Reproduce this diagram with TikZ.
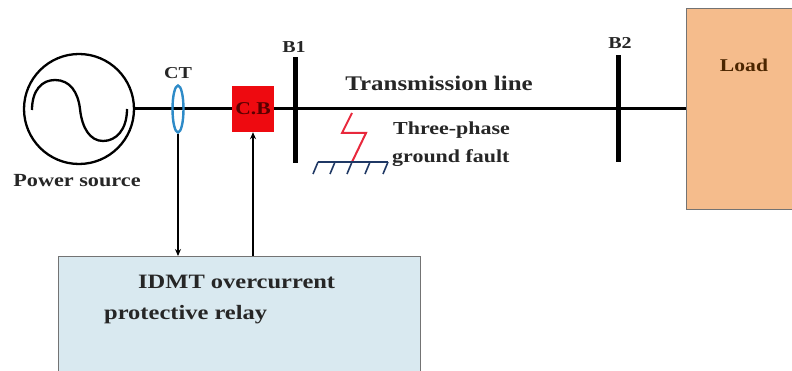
\documentclass[tikz,border=0pt]{standalone}
\usepackage{fontspec}
\setmainfont{Liberation Serif}[FakeStretch=1.2]
\usetikzlibrary{positioning, arrows.meta, shapes.geometric}

\definecolor{relayblue}{HTML}{D9E9F0}
\definecolor{loadorange}{HTML}{F5BC8C}
\definecolor{cbred}{HTML}{EE0A10}
\definecolor{ctblue}{HTML}{2E8BC8}
\definecolor{faultred}{HTML}{E8283C}
\definecolor{earthblue}{HTML}{1F3864}

\newcommand{\lblsize}[1]{\bfseries\fontsize{#1}{#1}\selectfont}

\begin{document}
\begin{tikzpicture}[
  x=1pt, y=-1pt,
  >={Stealth[length=7pt, width=6pt]},
  label/.style={font=\lblsize{16.7}, text=black!85, inner sep=0pt},
  box/.style={draw=black!55, line width=1pt, inner sep=0pt, anchor=north west},
  bus/.style={fill=black, inner sep=0pt, minimum width=5pt},
  wire/.style={line width=3pt},
  arrow/.style={->, line width=1.5pt},
  earth/.style={line width=1.6pt, earthblue}
]
\useasboundingbox (0,0) rectangle (792,371);

% Source
\node[circle, draw, line width=2.3pt, minimum size=110pt, inner sep=0pt] (source) at (79,109) {};
\draw[line width=2.3pt] (32,110) .. controls (32,90) and (42,80) .. (55,80)
  .. controls (70,80) and (78,92) .. (80,109)
  .. controls (82,128) and (90,141) .. (103,141)
  .. controls (116,141) and (127,130) .. (127,109);

% Boxes, the right and lower ones run off the page
\node[box, fill=loadorange, minimum width=120pt, minimum height=201pt] (load) at (686,8) {};
\node[box, fill=relayblue, minimum width=362pt, minimum height=130pt] (relay) at (58,256) {};
\node[fill=cbred, inner sep=0pt, minimum width=42pt, minimum height=46pt] (cb) at (253,109) {};

% Bus bars
\node[bus, minimum height=106pt] (b1) at (295,110) {};
\node[bus, minimum height=107pt] (b2) at (618,108.5) {};

% Main line
\draw[wire] (source.east) -- (cb.west);
\draw[wire] (cb.east) -- (load.west);

% CT
\node[ellipse, draw=ctblue, line width=2.4pt, minimum width=11pt, minimum height=47pt, inner sep=0pt] (ct) at (178,109) {};

% Relay connections
\draw[arrow] (ct.south) -- (ct.south |- relay.north);
\draw[arrow] (cb.south |- relay.north) -- (cb.south);

% Fault
\coordinate (fault) at (352,113);
\coordinate (earthl) at (318,162);
\coordinate (earthr) at (388,162);
\draw[line width=2pt, faultred] (fault) -- (342,133) -- (366,133) -- (352,162);
\draw[earth] (earthl) -- (earthr);
\foreach \x in {318,335,352,370,388} {
  \draw[earth] (\x,162) -- ++(-5,12);
}

% Labels
\node[label, font=\lblsize{18.5}] (lblsource) at (77,181) {Power source};
\node[label] (lblct) at (178,73) {CT};
\node[label, font=\lblsize{18}, text=red!35!black] (lblcb) at (cb) {C.B};
\node[label] (lblb1) at (294,47) {B1};
\node[label] (lblb2) at (620,43) {B2};
\node[label, font=\lblsize{20.8}] (lblline) at (439,83) {Transmission line};
\node[label, font=\lblsize{18.3}, anchor=west] (lblthree) at (393,130) {Three-phase};
\node[label, font=\lblsize{18.3}, anchor=west] (lblground) at (392,158) {ground fault};
\node[label, font=\lblsize{18}, text=black!70!orange] (lblload) at (744,65) {Load};
\node[label, font=\lblsize{20.4}, anchor=west] (lblidmt) at (138,282) {IDMT overcurrent};
\node[label, font=\lblsize{20.4}, anchor=west] (lblrelay) at (104,315) {protective relay};

\end{tikzpicture}
\end{document}
